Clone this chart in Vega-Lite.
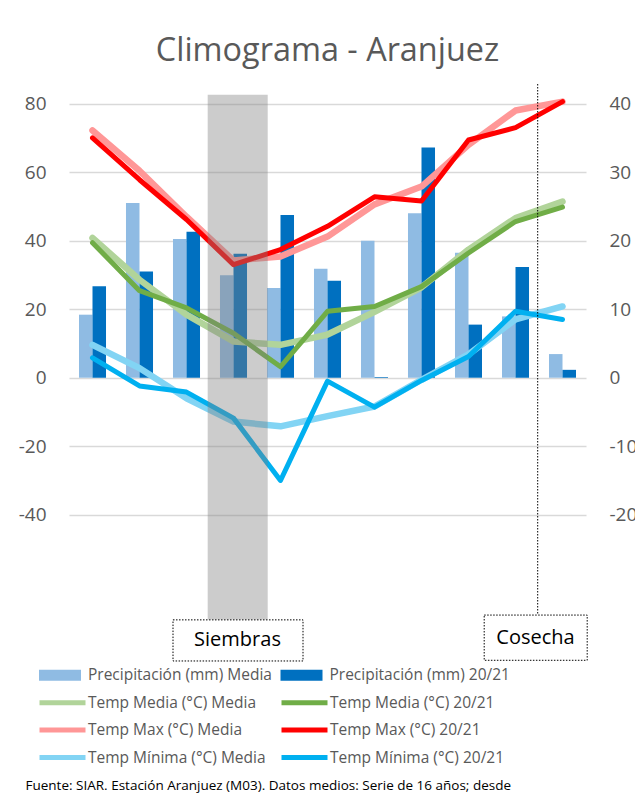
{
  "$schema": "https://vega.github.io/schema/vega-lite/v6.json",
  "width": 517,
  "height": 578,
  "autosize": {"type": "none"},
  "padding": {"left": 69, "top": 84, "right": 49, "bottom": 149},
  "background": "white",
  "config": {"font": "Open Sans", "view": {"stroke": null}},
  "title": {
    "text": "Climograma - Aranjuez",
    "font": "Open Sans",
    "fontSize": 32.4,
    "fontWeight": "normal",
    "color": "#595959",
    "anchor": "middle",
    "offset": 16
  },
  "datasets": {
    "precip": [
      {"mes": "sep", "serie": "Precipitación (mm) Media", "mm": 18.4},
      {"mes": "oct", "serie": "Precipitación (mm) Media", "mm": 51.0},
      {"mes": "nov", "serie": "Precipitación (mm) Media", "mm": 40.5},
      {"mes": "dic", "serie": "Precipitación (mm) Media", "mm": 29.9},
      {"mes": "ene", "serie": "Precipitación (mm) Media", "mm": 26.2},
      {"mes": "feb", "serie": "Precipitación (mm) Media", "mm": 31.8},
      {"mes": "mar", "serie": "Precipitación (mm) Media", "mm": 40.0},
      {"mes": "abr", "serie": "Precipitación (mm) Media", "mm": 48.0},
      {"mes": "may", "serie": "Precipitación (mm) Media", "mm": 36.5},
      {"mes": "jun", "serie": "Precipitación (mm) Media", "mm": 17.9},
      {"mes": "jul", "serie": "Precipitación (mm) Media", "mm": 6.9},
      {"mes": "sep", "serie": "Precipitación (mm) 20/21", "mm": 26.7},
      {"mes": "oct", "serie": "Precipitación (mm) 20/21", "mm": 31.0},
      {"mes": "nov", "serie": "Precipitación (mm) 20/21", "mm": 42.6},
      {"mes": "dic", "serie": "Precipitación (mm) 20/21", "mm": 36.2},
      {"mes": "ene", "serie": "Precipitación (mm) 20/21", "mm": 47.5},
      {"mes": "feb", "serie": "Precipitación (mm) 20/21", "mm": 28.3},
      {"mes": "mar", "serie": "Precipitación (mm) 20/21", "mm": 0.2},
      {"mes": "abr", "serie": "Precipitación (mm) 20/21", "mm": 67.2},
      {"mes": "may", "serie": "Precipitación (mm) 20/21", "mm": 15.5},
      {"mes": "jun", "serie": "Precipitación (mm) 20/21", "mm": 32.3},
      {"mes": "jul", "serie": "Precipitación (mm) 20/21", "mm": 2.3}
    ],
    "temp": [
      {"mes": "sep", "serie": "Temp Media (°C) Media", "tipo": "Media", "c": 20.4},
      {"mes": "oct", "serie": "Temp Media (°C) Media", "tipo": "Media", "c": 14.3},
      {"mes": "nov", "serie": "Temp Media (°C) Media", "tipo": "Media", "c": 9.2},
      {"mes": "dic", "serie": "Temp Media (°C) Media", "tipo": "Media", "c": 5.3},
      {"mes": "ene", "serie": "Temp Media (°C) Media", "tipo": "Media", "c": 4.8},
      {"mes": "feb", "serie": "Temp Media (°C) Media", "tipo": "Media", "c": 6.3},
      {"mes": "mar", "serie": "Temp Media (°C) Media", "tipo": "Media", "c": 9.6},
      {"mes": "abr", "serie": "Temp Media (°C) Media", "tipo": "Media", "c": 13.2},
      {"mes": "may", "serie": "Temp Media (°C) Media", "tipo": "Media", "c": 18.7},
      {"mes": "jun", "serie": "Temp Media (°C) Media", "tipo": "Media", "c": 23.3},
      {"mes": "jul", "serie": "Temp Media (°C) Media", "tipo": "Media", "c": 25.7},
      {"mes": "sep", "serie": "Temp Media (°C) 20/21", "tipo": "20/21", "c": 19.7},
      {"mes": "oct", "serie": "Temp Media (°C) 20/21", "tipo": "20/21", "c": 12.7},
      {"mes": "nov", "serie": "Temp Media (°C) 20/21", "tipo": "20/21", "c": 10.2},
      {"mes": "dic", "serie": "Temp Media (°C) 20/21", "tipo": "20/21", "c": 6.5},
      {"mes": "ene", "serie": "Temp Media (°C) 20/21", "tipo": "20/21", "c": 1.6},
      {"mes": "feb", "serie": "Temp Media (°C) 20/21", "tipo": "20/21", "c": 9.7},
      {"mes": "mar", "serie": "Temp Media (°C) 20/21", "tipo": "20/21", "c": 10.4},
      {"mes": "abr", "serie": "Temp Media (°C) 20/21", "tipo": "20/21", "c": 13.3},
      {"mes": "may", "serie": "Temp Media (°C) 20/21", "tipo": "20/21", "c": 18.2},
      {"mes": "jun", "serie": "Temp Media (°C) 20/21", "tipo": "20/21", "c": 22.8},
      {"mes": "jul", "serie": "Temp Media (°C) 20/21", "tipo": "20/21", "c": 24.9},
      {"mes": "sep", "serie": "Temp Max (°C) Media", "tipo": "Media", "c": 36.1},
      {"mes": "oct", "serie": "Temp Max (°C) Media", "tipo": "Media", "c": 30.2},
      {"mes": "nov", "serie": "Temp Max (°C) Media", "tipo": "Media", "c": 23.5},
      {"mes": "dic", "serie": "Temp Max (°C) Media", "tipo": "Media", "c": 17.1},
      {"mes": "ene", "serie": "Temp Max (°C) Media", "tipo": "Media", "c": 17.7},
      {"mes": "feb", "serie": "Temp Max (°C) Media", "tipo": "Media", "c": 20.6},
      {"mes": "mar", "serie": "Temp Max (°C) Media", "tipo": "Media", "c": 25.3},
      {"mes": "abr", "serie": "Temp Max (°C) Media", "tipo": "Media", "c": 27.9},
      {"mes": "may", "serie": "Temp Max (°C) Media", "tipo": "Media", "c": 34.0},
      {"mes": "jun", "serie": "Temp Max (°C) Media", "tipo": "Media", "c": 39.0},
      {"mes": "jul", "serie": "Temp Max (°C) Media", "tipo": "Media", "c": 40.3},
      {"mes": "sep", "serie": "Temp Max (°C) 20/21", "tipo": "20/21", "c": 35.0},
      {"mes": "oct", "serie": "Temp Max (°C) 20/21", "tipo": "20/21", "c": 28.9},
      {"mes": "nov", "serie": "Temp Max (°C) 20/21", "tipo": "20/21", "c": 23.1},
      {"mes": "dic", "serie": "Temp Max (°C) 20/21", "tipo": "20/21", "c": 16.5},
      {"mes": "ene", "serie": "Temp Max (°C) 20/21", "tipo": "20/21", "c": 18.7},
      {"mes": "feb", "serie": "Temp Max (°C) 20/21", "tipo": "20/21", "c": 22.1},
      {"mes": "mar", "serie": "Temp Max (°C) 20/21", "tipo": "20/21", "c": 26.4},
      {"mes": "abr", "serie": "Temp Max (°C) 20/21", "tipo": "20/21", "c": 25.8},
      {"mes": "may", "serie": "Temp Max (°C) 20/21", "tipo": "20/21", "c": 34.7},
      {"mes": "jun", "serie": "Temp Max (°C) 20/21", "tipo": "20/21", "c": 36.5},
      {"mes": "jul", "serie": "Temp Max (°C) 20/21", "tipo": "20/21", "c": 40.3},
      {"mes": "sep", "serie": "Temp Mínima (°C) Media", "tipo": "Media", "c": 4.8},
      {"mes": "oct", "serie": "Temp Mínima (°C) Media", "tipo": "Media", "c": 1.4},
      {"mes": "nov", "serie": "Temp Mínima (°C) Media", "tipo": "Media", "c": -3.0},
      {"mes": "dic", "serie": "Temp Mínima (°C) Media", "tipo": "Media", "c": -6.4},
      {"mes": "ene", "serie": "Temp Mínima (°C) Media", "tipo": "Media", "c": -7.1},
      {"mes": "feb", "serie": "Temp Mínima (°C) Media", "tipo": "Media", "c": -5.6},
      {"mes": "mar", "serie": "Temp Mínima (°C) Media", "tipo": "Media", "c": -4.2},
      {"mes": "abr", "serie": "Temp Mínima (°C) Media", "tipo": "Media", "c": -0.3},
      {"mes": "may", "serie": "Temp Mínima (°C) Media", "tipo": "Media", "c": 3.4},
      {"mes": "jun", "serie": "Temp Mínima (°C) Media", "tipo": "Media", "c": 8.5},
      {"mes": "jul", "serie": "Temp Mínima (°C) Media", "tipo": "Media", "c": 10.4},
      {"mes": "sep", "serie": "Temp Mínima (°C) 20/21", "tipo": "20/21", "c": 2.9},
      {"mes": "oct", "serie": "Temp Mínima (°C) 20/21", "tipo": "20/21", "c": -1.2},
      {"mes": "nov", "serie": "Temp Mínima (°C) 20/21", "tipo": "20/21", "c": -2.1},
      {"mes": "dic", "serie": "Temp Mínima (°C) 20/21", "tipo": "20/21", "c": -5.9},
      {"mes": "ene", "serie": "Temp Mínima (°C) 20/21", "tipo": "20/21", "c": -15.0},
      {"mes": "feb", "serie": "Temp Mínima (°C) 20/21", "tipo": "20/21", "c": -0.5},
      {"mes": "mar", "serie": "Temp Mínima (°C) 20/21", "tipo": "20/21", "c": -4.3},
      {"mes": "abr", "serie": "Temp Mínima (°C) 20/21", "tipo": "20/21", "c": -0.4},
      {"mes": "may", "serie": "Temp Mínima (°C) 20/21", "tipo": "20/21", "c": 3.1},
      {"mes": "jun", "serie": "Temp Mínima (°C) 20/21", "tipo": "20/21", "c": 9.7},
      {"mes": "jul", "serie": "Temp Mínima (°C) 20/21", "tipo": "20/21", "c": 8.5}
    ],
    "siembra": [{"mes": "dic", "etiqueta": "Siembras"}],
    "cosecha": [{"mes": "jul", "etiqueta": "Cosecha"}]
  },
  "layer": [
    {
      "data": {"name": "precip"},
      "mark": {"type": "bar"},
      "encoding": {
        "x": {
          "field": "mes",
          "type": "nominal",
          "sort": ["sep", "oct", "nov", "dic", "ene", "feb", "mar", "abr", "may", "jun", "jul"],
          "scale": {"paddingInner": 0.425, "paddingOuter": 0.2125},
          "axis": {
            "title": "Fuente: SIAR. Estación Aranjuez (M03). Datos medios: Serie de 16 años; desde",
            "labels": false,
            "ticks": false,
            "domain": false,
            "grid": false,
            "titleX": -44,
            "titleY": 127.5,
            "titleAlign": "left",
            "titleAnchor": "start",
            "titleBaseline": "alphabetic",
            "titleFont": "Open Sans",
            "titleFontSize": 13.5,
            "titleFontWeight": "normal",
            "titleColor": "#000000"
          }
        },
        "xOffset": {"field": "serie", "type": "nominal", "sort": ["Precipitación (mm) Media", "Precipitación (mm) 20/21"]},
        "y": {
          "field": "mm",
          "type": "quantitative",
          "scale": {"domain": [-83, 85.75], "nice": false, "zero": false},
          "axis": {
            "title": null,
            "values": [-40, -20, 0, 20, 40, 60, 80],
            "labelExpr": "toString(datum.value)",
            "grid": true,
            "gridColor": "#d9d9d9",
            "gridWidth": 1.5,
            "domain": false,
            "ticks": false,
            "labelPadding": 23,
            "labelFont": "Open Sans",
            "labelFontSize": 19,
            "labelColor": "#595959"
          }
        },
        "fill": {
          "field": "serie",
          "type": "nominal",
          "scale": {
            "domain": ["Precipitación (mm) Media", "Precipitación (mm) 20/21"],
            "range": ["#8fbbe3", "#0070c0"]
          },
          "legend": {
            "title": null,
            "orient": "none",
            "legendX": -19,
            "legendY": 581,
            "direction": "vertical",
            "columns": 2,
            "symbolType": "M-2.1,-0.55H2.1V0.55H-2.1Z",
            "symbolSize": 400,
            "symbolStrokeWidth": 0,
            "labelFont": "Open Sans",
            "labelFontSize": 15.5,
            "labelColor": "#595959",
            "labelOffset": 18,
            "labelLimit": 400,
            "rowPadding": 1.5,
            "columnPadding": 8.5
          }
        }
      }
    },
    {
      "encoding": {
        "x": {
          "field": "mes",
          "type": "nominal",
          "sort": ["sep", "oct", "nov", "dic", "ene", "feb", "mar", "abr", "may", "jun", "jul"]
        }
      },
      "layer": [
        {
          "data": {"name": "temp"},
          "transform": [{"filter": "datum.tipo === 'Media'"}],
          "mark": {"type": "line", "strokeWidth": 6.5, "strokeCap": "round", "strokeJoin": "round"},
          "encoding": {
            "y": {
              "field": "c",
              "type": "quantitative",
              "scale": {"domain": [-41.5, 42.875], "nice": false, "zero": false},
              "axis": {
                "orient": "right",
                "title": null,
                "values": [-20, -10, 0, 10, 20, 30, 40],
                "labelExpr": "toString(datum.value)",
                "grid": false,
                "domain": false,
                "ticks": false,
                "labelPadding": 23,
                "labelFont": "Open Sans",
                "labelFontSize": 19,
                "labelColor": "#595959"
              }
            },
            "stroke": {
              "field": "serie",
              "type": "nominal",
              "scale": {
                "domain": [
                  "Temp Media (°C) Media", "Temp Max (°C) Media", "Temp Mínima (°C) Media",
                  "Temp Media (°C) 20/21", "Temp Max (°C) 20/21", "Temp Mínima (°C) 20/21"
                ],
                "range": ["#b1d49a", "#ff9797", "#82d4f4", "#70ad47", "#ff0000", "#00b0f0"]
              },
              "legend": {
                "title": null,
                "orient": "none",
                "legendX": -19,
                "legendY": 606,
                "direction": "vertical",
                "columns": 2,
                "symbolType": "M-2.3,0H2.3",
                "symbolSize": 400,
                "symbolStrokeWidth": 5,
                "symbolFillColor": "transparent",
                "labelFont": "Open Sans",
                "labelFontSize": 15.5,
                "labelColor": "#595959",
                "labelOffset": 13,
                "labelLimit": 400,
                "rowPadding": 4.5,
                "columnPadding": 5
              }
            }
          }
        },
        {
          "data": {"name": "temp"},
          "transform": [{"filter": "datum.tipo === '20/21'"}],
          "mark": {"type": "line", "strokeWidth": 5, "strokeCap": "round", "strokeJoin": "round"},
          "encoding": {
            "y": {"field": "c", "type": "quantitative"},
            "stroke": {"field": "serie", "type": "nominal"}
          }
        },
        {
          "data": {"name": "siembra"},
          "mark": {"type": "bar", "width": 60, "xOffset": 4.2, "color": "#808080", "opacity": 0.4},
          "encoding": {
            "y": {"datum": 41.3, "type": "quantitative"},
            "y2": {"datum": -35.35}
          }
        },
        {
          "data": {"name": "siembra"},
          "mark": {"type": "bar", "width": 130, "xOffset": 4.5, "fill": "white", "stroke": "black", "strokeWidth": 1, "strokeDash": [1.5, 1.5]},
          "encoding": {
            "y": {"datum": -35.35, "type": "quantitative"},
            "y2": {"datum": -41.35}
          }
        },
        {
          "data": {"name": "siembra"},
          "mark": {"type": "text", "xOffset": 4, "fontSize": 20, "fill": "#000000", "baseline": "middle", "align": "center"},
          "encoding": {
            "y": {"datum": -38.35, "type": "quantitative"},
            "text": {"field": "etiqueta"}
          }
        },
        {
          "data": {"name": "cosecha"},
          "mark": {"type": "rule", "xOffset": -24.8, "stroke": "black", "strokeWidth": 1, "strokeDash": [1.5, 1.5]},
          "encoding": {
            "y": {"datum": 42.875, "type": "quantitative"},
            "y2": {"datum": -34.65}
          }
        },
        {
          "data": {"name": "cosecha"},
          "mark": {"type": "bar", "width": 103, "xOffset": -26.8, "fill": "white", "stroke": "black", "strokeWidth": 1, "strokeDash": [1.5, 1.5]},
          "encoding": {
            "y": {"datum": -34.65, "type": "quantitative"},
            "y2": {"datum": -41.25}
          }
        },
        {
          "data": {"name": "cosecha"},
          "mark": {"type": "text", "xOffset": -27, "fontSize": 20, "fill": "#000000", "baseline": "middle", "align": "center"},
          "encoding": {
            "y": {"datum": -37.95, "type": "quantitative"},
            "text": {"field": "etiqueta"}
          }
        }
      ]
    }
  ],
  "resolve": {"scale": {"y": "independent"}}
}
